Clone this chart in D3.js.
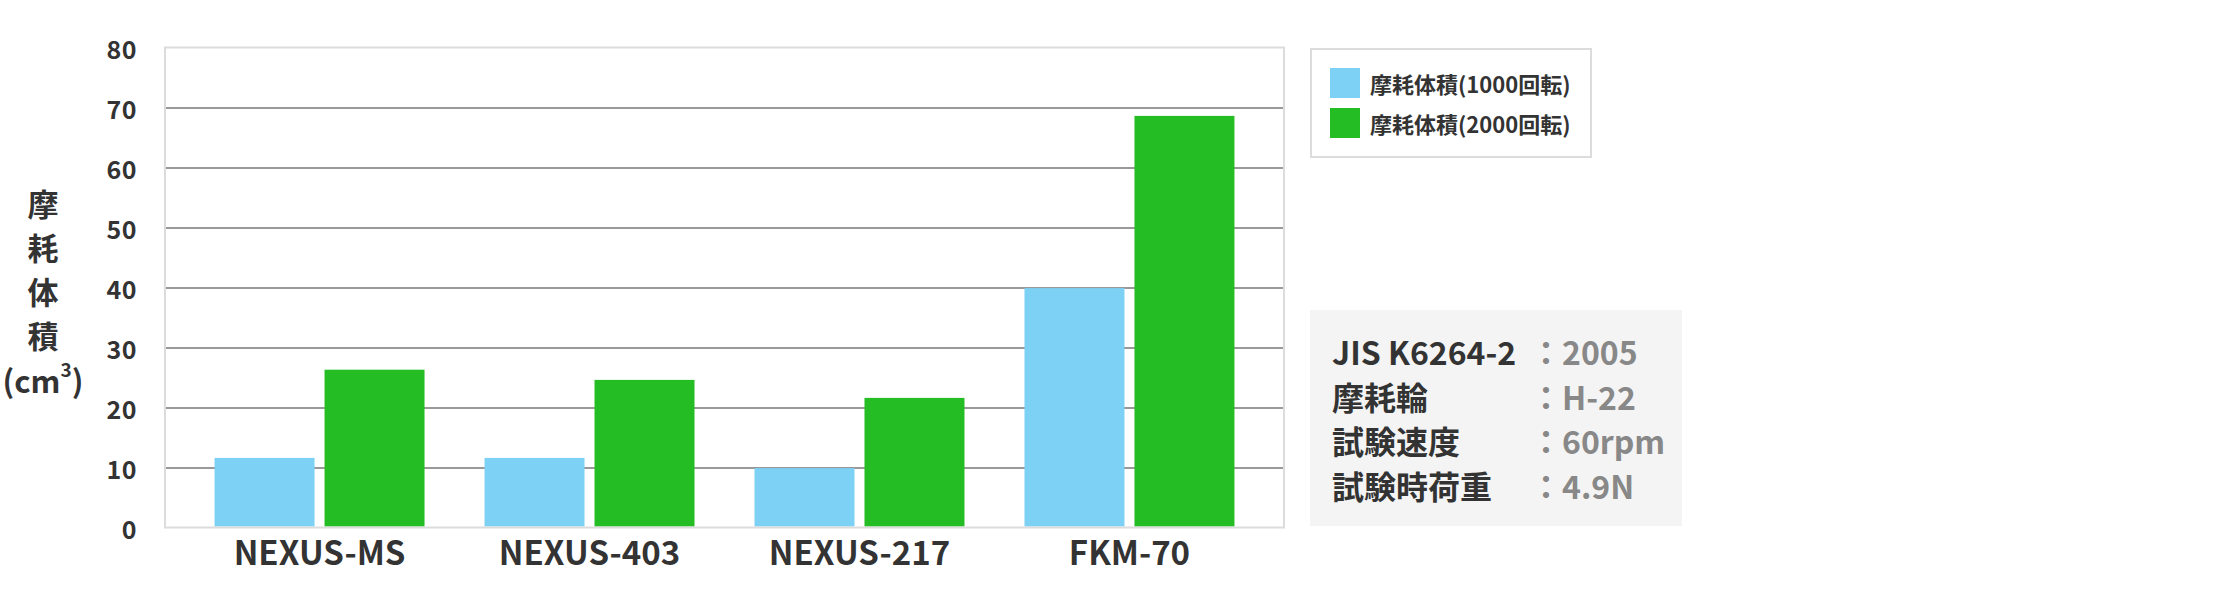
<!DOCTYPE html>
<html>
<head>
<meta charset="utf-8">
<script src="https://cdn.jsdelivr.net/npm/d3@7"></script>
<style>
  body { margin: 0; background: #fff; }
  text { font-family: "Noto Sans CJK JP", "Noto Sans", sans-serif; font-weight: 700; }
</style>
</head>
<body>
<svg id="chart"></svg>
<script>
var categories = ['NEXUS-MS', 'NEXUS-403', 'NEXUS-217', 'FKM-70'];
var seriesNames = ['摩耗体積(1000回転)', '摩耗体積(2000回転)'];
var wear1000 = [11.6, 11.6, 9.9, 39.9];
var wear2000 = [26.3, 24.6, 21.6, 68.6];
var yTicks = [0, 10, 20, 30, 40, 50, 60, 70, 80];
var yTitle = ['摩', '耗', '体', '積'];
var specLabels = ['JIS K6264-2', '摩耗輪', '試験速度', '試験時荷重'];
var specValues = ['2005', 'H-22', '60rpm', '4.9N'];

var colors = ['#7dd1f4', '#24bd24'];

var width = 2240,
    height = 600,
    plot = { left: 165, right: 1284, top: 47.5, bottom: 527.5 };

var svg = d3.select('#chart').attr('width', width).attr('height', height);

var x = d3.scaleBand()
    .domain(categories)
    .range([plot.left, plot.right])
    .paddingInner(60 / 270)
    .paddingOuter(0.1835);

var x1 = d3.scaleBand()
    .domain(seriesNames)
    .range([0, x.bandwidth()])
    .paddingInner(10 / 110);

var y = d3.scaleLinear().domain([0, 80]).range([plot.bottom, plot.top]);

// grid lines
svg.append('g')
    .attr('transform', 'translate(' + plot.left + ',0)')
    .call(d3.axisLeft(y).tickValues(yTicks.slice(1, -1)).tickSize(-(plot.right - plot.left)).tickFormat(''))
    .call(g => g.select('.domain').remove())
    .selectAll('line')
    .attr('stroke', '#999')
    .attr('stroke-width', 2);

// bars
var rows = categories.map((c, i) => ({ cat: c, vals: [wear1000[i], wear2000[i]] }));
svg.append('g')
    .selectAll('g')
    .data(rows)
    .enter()
    .append('g')
    .attr('transform', d => 'translate(' + x(d.cat) + ',0)')
    .selectAll('rect')
    .data(d => d.vals.map((v, k) => ({ key: seriesNames[k], v: v, k: k })))
    .enter()
    .append('rect')
    .attr('x', d => x1(d.key))
    .attr('width', x1.bandwidth())
    .attr('y', d => y(d.v))
    .attr('height', d => y(0) - y(d.v) - 1)
    .attr('fill', d => colors[d.k]);

// plot frame
svg.append('rect')
    .attr('x', plot.left)
    .attr('y', plot.top)
    .attr('width', plot.right - plot.left)
    .attr('height', plot.bottom - plot.top)
    .attr('fill', 'none')
    .attr('stroke', '#dcdcdc')
    .attr('stroke-width', 2);

// y tick labels
var yAxis = svg.append('g')
    .attr('transform', 'translate(' + plot.left + ',0)')
    .call(d3.axisLeft(y).tickValues(yTicks).tickSize(0).tickPadding(28));
yAxis.select('.domain').remove();
yAxis.selectAll('text')
    .attr('font-size', 25)
    .attr('letter-spacing', 0.5)
    .attr('font-family', '"Noto Sans CJK JP", sans-serif')
    .attr('font-weight', 700)
    .attr('fill', '#333')
    .attr('dy', '0.45em');

// x labels
var xAxis = svg.append('g')
    .attr('transform', 'translate(0,' + plot.bottom + ')')
    .call(d3.axisBottom(x).tickSize(0).tickPadding(14));
xAxis.select('.domain').remove();
xAxis.selectAll('text')
    .attr('font-size', 33)
    .attr('font-family', '"Noto Sans CJK JP", sans-serif')
    .attr('font-weight', 700)
    .attr('fill', '#333');

// y title (vertical stack)
var titleG = svg.append('g').attr('fill', '#333').attr('font-size', 31).attr('text-anchor', 'middle');
titleG.selectAll('text.ch')
    .data(yTitle)
    .enter()
    .append('text')
    .attr('class', 'ch')
    .attr('x', 43)
    .attr('y', (d, i) => 202.5 + i * 44)
    .attr('dominant-baseline', 'central')
    .text(d => d);
var unit = titleG.append('text')
    .attr('x', 43)
    .attr('y', 202.5 + 4 * 44)
    .attr('dominant-baseline', 'central');
unit.append('tspan').text('(cm');
unit.append('tspan').attr('font-size', 19).attr('dy', -11).text('3');
unit.append('tspan').attr('dy', 11).text(')');

// legend
svg.append('rect')
    .attr('x', 1311).attr('y', 49)
    .attr('width', 280).attr('height', 108)
    .attr('fill', '#fff')
    .attr('stroke', '#dcdcdc')
    .attr('stroke-width', 2);
var legend = svg.append('g')
    .selectAll('g')
    .data(seriesNames)
    .enter()
    .append('g')
    .attr('transform', (d, i) => 'translate(1330,' + (68 + i * 40) + ')');
legend.append('rect').attr('width', 30).attr('height', 30).attr('fill', (d, i) => colors[i]);
legend.append('text')
    .attr('x', 40).attr('y', 15)
    .attr('dominant-baseline', 'central')
    .attr('font-size', 22)
    .attr('fill', '#333')
    .text(d => d);

// test conditions box
svg.append('rect')
    .attr('x', 1310).attr('y', 310)
    .attr('width', 372).attr('height', 216)
    .attr('fill', '#f4f4f4');
var spec = svg.append('g')
    .selectAll('g')
    .data(specLabels)
    .enter()
    .append('g')
    .attr('transform', (d, i) => 'translate(0,' + (365 + i * 44.5) + ')');
spec.append('text')
    .attr('x', 1332)
    .attr('font-size', 32)
    .attr('fill', '#333')
    .text(d => d);
spec.append('text')
    .attr('x', 1530)
    .attr('font-size', 32)
    .attr('fill', '#888')
    .text((d, i) => '：' + specValues[i]);
</script>
</body>
</html>
